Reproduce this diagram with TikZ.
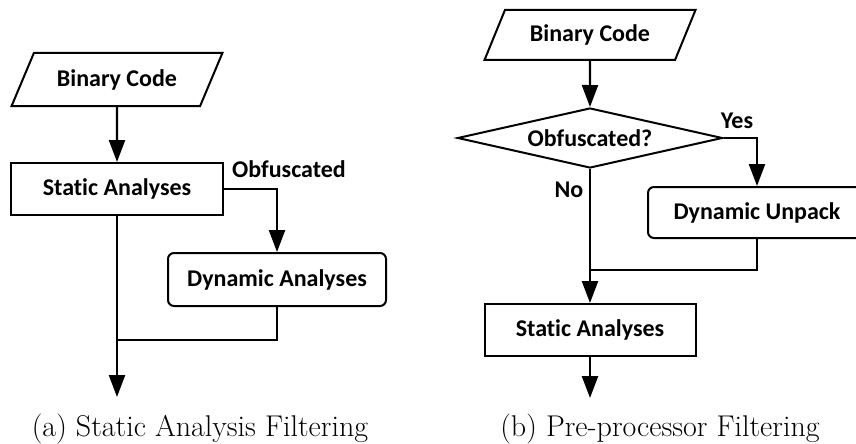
\documentclass[tikz,border=0pt]{standalone}
\usepackage{fontspec}
\newfontfamily\boxfont[Ligatures=NoCommon]{Carlito}
\usetikzlibrary{shapes.geometric,arrows.meta}

\tikzset{
  flow/.style={line width=2pt, font=\boxfont\bfseries\fontsize{24}{28}\selectfont, inner sep=0pt},
  iobox/.style={flow, draw, trapezium, trapezium left angle=52, trapezium right angle=128,
    trapezium stretches=true, minimum width=211pt},
  procbox/.style={flow, draw, rectangle, minimum width=212pt, minimum height=52pt},
  roundbox/.style={flow, draw, rectangle, rounded corners=6pt, minimum width=218pt, minimum height=52pt},
  decbox/.style={flow, draw, diamond, aspect=4.4, minimum width=265pt, minimum height=60pt},
  lbl/.style={font=\boxfont\bfseries\fontsize{24}{28}\selectfont, inner sep=0pt},
  subcaption/.style={font=\fontsize{30}{36}\selectfont, inner sep=0pt, anchor=base},
  conn/.style={line width=2.4pt},
  arr/.style={conn, -{Triangle[length=22pt,width=16pt]}},
}

\begin{document}
\begin{tikzpicture}[x=1pt,y=-1pt]
  \useasboundingbox (0,0) rectangle (856,444);

  % (a) static analysis filtering
  \node[iobox, minimum height=53pt] (binA) at (117,79.5) {Binary Code};
  \node[procbox] (statA) at (117,189) {Static Analyses};
  \node[roundbox, minimum height=53pt] (dynA) at (277,279.5) {Dynamic Analyses};
  \node[lbl] (obf) at (289,169) {Obfuscated};
  \coordinate (mA) at (117,340);
  \coordinate (endA) at (117,397);
  \draw[arr] (binA.south) -- (statA.north);
  \draw[arr] (statA.east) -| (dynA.north);
  \draw[conn] (dynA.south) |- (mA);
  \draw[arr] (statA.south) -- (endA);
  \node[subcaption] (capA) at (200,436) {(a) Static Analysis Filtering};

  % (b) pre-processor filtering
  \node[iobox, minimum height=50pt, trapezium left angle=55, trapezium right angle=125] (binB) at (590,35) {Binary Code};
  \node[decbox] (decB) at (590,138) {Obfuscated?};
  \node[lbl] (yes) at (737,121) {Yes};
  \node[lbl] (no) at (569,190) {No};
  \node[roundbox, minimum height=51pt] (dynB) at (757,212.5) {Dynamic Unpack};
  \node[procbox, minimum width=211pt] (statB) at (590,330) {Static Analyses};
  \coordinate (mB) at (590,270);
  \coordinate (endB) at (590,398);
  \draw[arr] (binB.south) -- (decB.north);
  \draw[arr] (decB.east) -| (dynB.north);
  \draw[conn] (dynB.south) |- (mB);
  \draw[arr] (decB.south) -- (statB.north);
  \draw[arr] (statB.south) -- (endB);
  \node[subcaption] (capB) at (660,436) {(b) Pre-processor Filtering};
\end{tikzpicture}
\end{document}
